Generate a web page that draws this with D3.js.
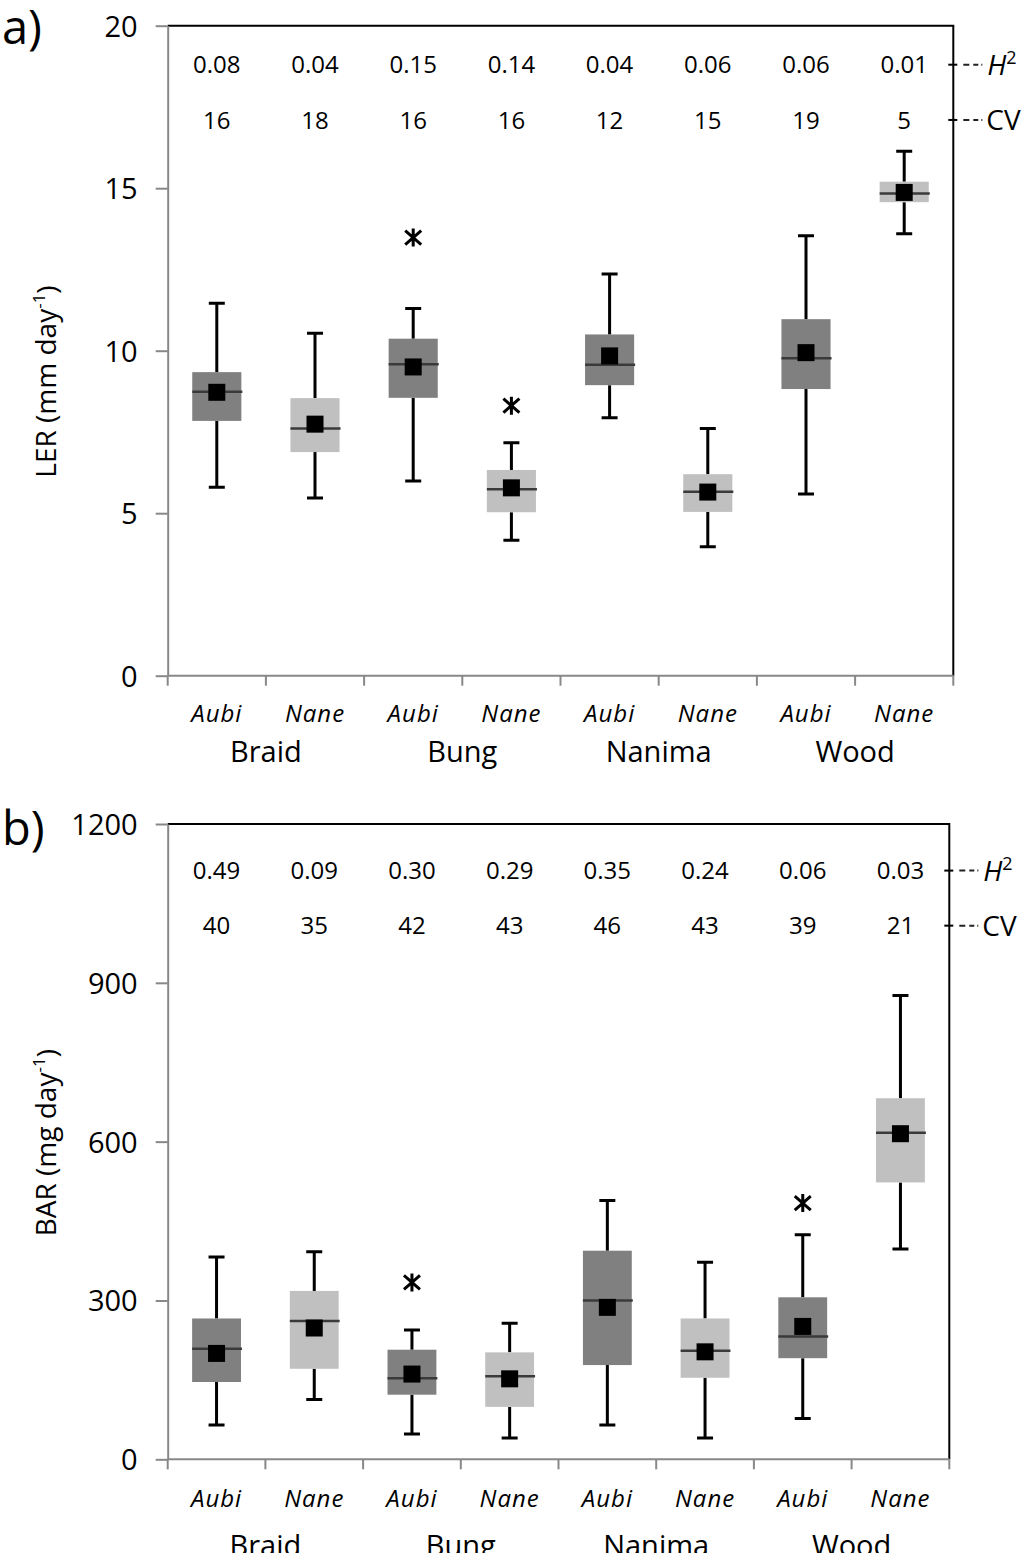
<!DOCTYPE html>
<html lang="en">
    <head>
        <meta charset="UTF-8" />
        <title>LER and BAR box plots</title>
        <script src="https://cdnjs.cloudflare.com/ajax/libs/d3/7.9.0/d3.min.js"></script>
        <style>
            body {
                margin: 0;
                background: white;
            }
            svg {
                display: block;
                font-family: "Open Sans", sans-serif;
            }
            .tickLabel {
                font-family: "Open Sans", sans-serif;
                font-size: 29px;
            }
            .rowLabel {
                font-size: 24px;
            }
            .speciesLabel {
                font-size: 24px;
                font-style: italic;
                letter-spacing: 1px;
            }
            .groupLabel {
                font-size: 29px;
            }
            .axisTitle {
                font-size: 28px;
            }
            .panelLabel {
                font-size: 47px;
            }
        </style>
    </head>
    <body>
        <svg width="1024" height="1553"></svg>
        <script>
            const groups = ["Braid", "Bung", "Nanima", "Wood"];
            const species = ["Aubi", "Nane"];

            // panel a: LER (mm day-1), order Braid-Aubi, Braid-Nane, Bung-Aubi, ...
            const lerLow = [5.8, 5.47, 5.99, 4.17, 7.94, 3.97, 5.59, 13.6];
            const lerQ1 = [7.84, 6.88, 8.55, 5.03, 8.94, 5.04, 8.82, 14.57];
            const lerMedian = [8.74, 7.61, 9.58, 5.74, 9.57, 5.66, 9.77, 14.84];
            const lerQ3 = [9.34, 8.54, 10.37, 6.33, 10.5, 6.2, 10.97, 15.2];
            const lerHigh = [11.46, 10.54, 11.3, 7.17, 12.36, 7.61, 13.54, 16.14];
            const lerMean = [8.72, 7.74, 9.5, 5.78, 9.84, 5.65, 9.94, 14.87];
            const lerOutlier = [null, null, 13.48, 8.31, null, null, null, null];
            const lerH2 = ["0.08", "0.04", "0.15", "0.14", "0.04", "0.06", "0.06", "0.01"];
            const lerCV = ["16", "18", "16", "16", "12", "15", "19", "5"];
            const lerTicks = [0, 5, 10, 15, 20];

            // panel b: BAR (mg day-1)
            const barLow = [65, 113, 48, 40, 65, 40, 77, 397];
            const barQ1 = [146, 171, 122, 99, 178, 154, 191, 523];
            const barMedian = [209, 261, 153, 157, 300, 205, 232, 617];
            const barQ3 = [266, 318, 207, 202, 394, 266, 306, 682];
            const barHigh = [382, 392, 244, 257, 489, 372, 424, 876];
            const barMean = [200, 248, 161, 152, 287, 203, 251, 615];
            const barOutlier = [null, null, 334, null, null, null, 484, null];
            const barH2 = ["0.49", "0.09", "0.30", "0.29", "0.35", "0.24", "0.06", "0.03"];
            const barCV = ["40", "35", "42", "43", "46", "43", "39", "21"];
            const barTicks = [0, 300, 600, 900, 1200];

            const keys = groups.flatMap((g) => species.map((s) => g + "|" + s));
            const fillFor = (s) => (s === "Aubi" ? "#808080" : "#c0c0c0");
            const axisGray = "#888888";

            const panels = [
                {
                    label: "a)", title: "LER (mm day", low: lerLow, q1: lerQ1, median: lerMedian, q3: lerQ3,
                    high: lerHigh, mean: lerMean, outlier: lerOutlier, h2: lerH2, cv: lerCV, ticks: lerTicks,
                    rows: [18.8, 17.1],
                    box: { left: 167.7, right: 953.3, top: 25.7, bottom: 675.7 },
                    titleY: 381.5, labelY: 44, speciesDy: 46.5, groupDy: 86,
                },
                {
                    label: "b)", title: "BAR (mg day", low: barLow, q1: barQ1, median: barMedian, q3: barQ3,
                    high: barHigh, mean: barMean, outlier: barOutlier, h2: barH2, cv: barCV, ticks: barTicks,
                    rows: [1112, 1008],
                    box: { left: 167.7, right: 949.3, top: 824, bottom: 1459.3 },
                    titleY: 1142.7, labelY: 845, speciesDy: 47.4, groupDy: 96.5,
                },
            ];

            const svg = d3.select("svg");

            panels.forEach((p) => {
                const b = p.box;
                const g = svg.append("g");
                const x = d3.scaleBand().domain(keys).range([b.left, b.right]).padding(0);
                const y = d3.scaleLinear().domain([0, p.ticks[p.ticks.length - 1]]).range([b.bottom, b.top]);
                const bw = x.bandwidth() * 0.5;
                const cx = (k) => x(k) + x.bandwidth() / 2;
                const data = keys.map((k, i) => ({
                    key: k, group: k.split("|")[0], species: k.split("|")[1],
                    low: p.low[i], q1: p.q1[i], median: p.median[i], q3: p.q3[i],
                    high: p.high[i], mean: p.mean[i], outlier: p.outlier[i],
                }));

                // top and right frame (black)
                g.append("path")
                    .attr("d", `M${b.left},${b.top}H${b.right}V${b.bottom}`)
                    .attr("fill", "none")
                    .attr("stroke", "#000")
                    .attr("stroke-width", 2);

                // left axis (gray)
                const yAxis = g.append("g")
                    .attr("transform", `translate(${b.left},0)`)
                    .call(d3.axisLeft(y).tickValues(p.ticks).tickFormat(d3.format("d")).tickSize(12).tickPadding(18).tickSizeOuter(0));
                yAxis.attr("font-family", null).attr("font-size", null);
                yAxis.select(".domain").attr("stroke", axisGray).attr("stroke-width", 2);
                yAxis.selectAll(".tick line").attr("stroke", axisGray).attr("stroke-width", 2);
                yAxis.selectAll(".tick text")
                    .attr("class", "tickLabel")
                    .attr("dy", "0.36em")
                    .attr("fill", "#000");

                // bottom axis with ticks at category boundaries
                const bounds = keys.map((k) => x(k)).concat([b.right]);
                g.append("line")
                    .attr("x1", b.left).attr("x2", b.right)
                    .attr("y1", b.bottom).attr("y2", b.bottom)
                    .attr("stroke", axisGray).attr("stroke-width", 2);
                g.selectAll(".xtick")
                    .data(bounds)
                    .enter()
                    .append("line")
                    .attr("class", "xtick")
                    .attr("x1", (d) => d).attr("x2", (d) => d)
                    .attr("y1", b.bottom).attr("y2", b.bottom + 10)
                    .attr("stroke", axisGray).attr("stroke-width", 2);

                g.selectAll(".speciesLabel")
                    .data(data)
                    .enter()
                    .append("text")
                    .attr("class", "speciesLabel")
                    .attr("x", (d) => cx(d.key))
                    .attr("y", b.bottom + p.speciesDy)
                    .attr("text-anchor", "middle")
                    .text((d) => d.species);

                g.selectAll(".groupLabel")
                    .data(groups)
                    .enter()
                    .append("text")
                    .attr("class", "groupLabel")
                    .attr("x", (d) => x(d + "|" + species[1]))
                    .attr("y", b.bottom + p.groupDy)
                    .attr("text-anchor", "middle")
                    .text((d) => d);

                const node = g.selectAll(".node")
                    .data(data)
                    .enter()
                    .append("g")
                    .attr("class", "node")
                    .attr("transform", (d) => `translate(${cx(d.key)},0)`);

                // whiskers
                node.append("path")
                    .attr("d", (d) => `M0,${y(d.q3)}V${y(d.high)}M-8,${y(d.high)}H8` + `M0,${y(d.q1)}V${y(d.low)}M-8,${y(d.low)}H8`)
                    .attr("fill", "none")
                    .attr("stroke", "#000")
                    .attr("stroke-width", 3);

                node.append("rect")
                    .attr("x", -bw / 2)
                    .attr("width", bw)
                    .attr("y", (d) => y(d.q3))
                    .attr("height", (d) => y(d.q1) - y(d.q3))
                    .attr("fill", (d) => fillFor(d.species));

                node.append("line")
                    .attr("x1", -bw / 2).attr("x2", bw / 2 + 1)
                    .attr("y1", (d) => y(d.median)).attr("y2", (d) => y(d.median))
                    .attr("stroke", "#3a3a3a")
                    .attr("stroke-width", 2.5);

                node.append("rect")
                    .attr("x", -8.5)
                    .attr("width", 17)
                    .attr("y", (d) => y(d.mean) - 8.5)
                    .attr("height", 17)
                    .attr("fill", "#000");

                node.filter((d) => d.outlier !== null)
                    .append("path")
                    .attr("transform", (d) => `translate(0,${y(d.outlier)})`)
                    .attr("d", "M0,-9V9M-8,-7L8,7M-8,7L8,-7")
                    .attr("fill", "none")
                    .attr("stroke", "#000")
                    .attr("stroke-width", 3);

                // H2 and CV rows
                [p.h2, p.cv].forEach((vals, r) => {
                    g.selectAll(".row" + r)
                        .data(vals)
                        .enter()
                        .append("text")
                        .attr("class", "rowLabel row" + r)
                        .attr("x", (d, i) => cx(keys[i]))
                        .attr("y", y(p.rows[r]))
                        .attr("dy", "0.36em")
                        .attr("text-anchor", "middle")
                        .text((d) => d);
                });

                // right-side markers with dash-dot leaders
                const marks = g.selectAll(".rowMark")
                    .data(p.rows)
                    .enter()
                    .append("g")
                    .attr("class", "rowMark")
                    .attr("transform", (d) => `translate(${b.right},${y(d)})`);
                marks.append("line")
                    .attr("x1", -5).attr("x2", 4)
                    .attr("stroke", "#000").attr("stroke-width", 2);
                marks.append("line")
                    .attr("x1", 10).attr("x2", 29)
                    .attr("stroke", "#222").attr("stroke-width", 2)
                    .attr("stroke-dasharray", "6,4,5,3,1.5,50");
                const h2Text = marks.filter((d, i) => i === 0)
                    .append("text")
                    .attr("x", 34)
                    .attr("dy", "0.36em")
                    .attr("font-size", 28);
                h2Text.append("tspan").attr("font-style", "italic").text("H");
                h2Text.append("tspan").attr("font-size", 18).attr("dy", "-0.6em").text("2");
                marks.filter((d, i) => i === 1)
                    .append("text")
                    .attr("x", 33)
                    .attr("dy", "0.36em")
                    .attr("font-size", 28)
                    .text("CV");

                // axis title
                const title = g.append("text")
                    .attr("class", "axisTitle")
                    .attr("transform", `translate(56,${p.titleY}) rotate(-90)`)
                    .attr("text-anchor", "middle");
                title.append("tspan").text(p.title);
                title.append("tspan").attr("font-size", 17).attr("dy", "-0.65em").text("-1");
                title.append("tspan").attr("dy", "0.42em").text(")");

                g.append("text")
                    .attr("class", "panelLabel")
                    .attr("x", 2)
                    .attr("y", p.labelY)
                    .text(p.label);
            });
        </script>
    </body>
</html>
